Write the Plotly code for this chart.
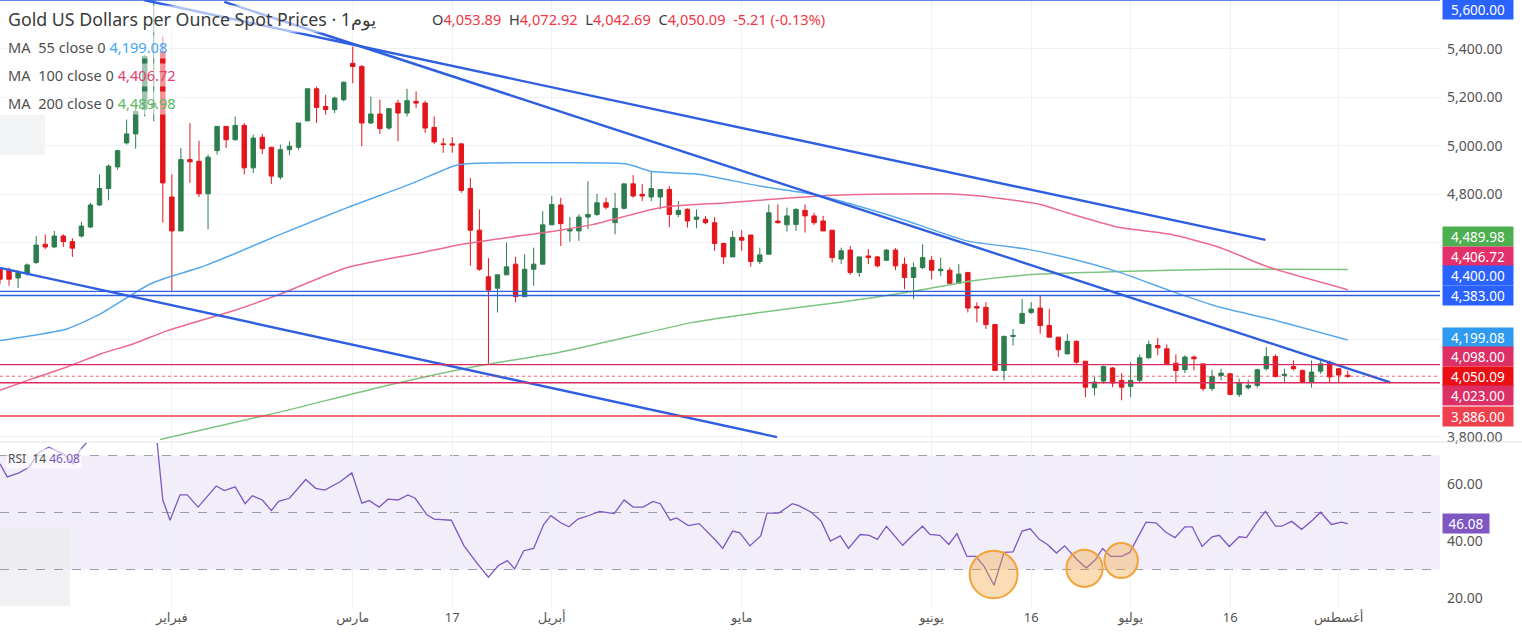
import plotly.graph_objects as go

# ---------------- data ----------------
open_ = [4491, 4487, 4455, 4474, 4519, 4594, 4583, 4628, 4605, 4628,
         4665, 4756, 4824, 4913, 5012, 5049, 5149, 5160, 5388, 4789,
         4649, 4943, 4936, 4802, 4980, 5080, 5025, 5084, 4909, 5035,
         4994, 4871, 4984, 4994, 5103, 5235, 5162, 5149, 5190, 5340,
         5327, 5094, 5131, 5073, 5176, 5135, 5183, 5176, 5076, 5008,
         5008, 5008, 4824, 4652, 4460, 4413, 4468, 4512, 4378, 4491,
         4512, 4674, 4756, 4649, 4649, 4706, 4717, 4765, 4683, 4742,
         4843, 4800, 4789, 4789, 4820, 4717, 4738, 4697, 4697, 4683,
         4597, 4542, 4622, 4632, 4523, 4553, 4690, 4674, 4676, 4734,
         4711, 4690, 4652, 4533, 4570, 4478, 4546, 4542, 4528, 4570,
         4512, 4457, 4498, 4528, 4485, 4487, 4433, 4478, 4337, 4334,
         4263, 4074, 4214, 4268, 4313, 4331, 4259, 4211, 4142, 4194,
         4112, 4003, 4030, 4084, 4033, 4008, 4033, 4126, 4177, 4163,
         4104, 4077, 4129, 4101, 3999, 4053, 4060, 3975, 4003, 4012,
         4081, 4131, 4053, 4090, 4074, 4026, 4071, 4108, 4081, 4053.89]
high = [4498, 4498, 4487, 4515, 4628, 4635, 4649, 4635, 4619, 4687,
        4765, 4882, 4923, 4984, 5108, 5169, 5375, 5621, 5450, 4882,
        4991, 5094, 5021, 4964, 5080, 5080, 5121, 5094, 5046, 5049,
        4994, 5005, 5019, 5094, 5235, 5244, 5210, 5203, 5265, 5409,
        5333, 5203, 5190, 5155, 5190, 5235, 5224, 5186, 5121, 5032,
        5035, 5008, 4868, 4738, 4537, 4468, 4601, 4542, 4553, 4580,
        4731, 4793, 4786, 4706, 4717, 4854, 4802, 4786, 4806, 4843,
        4879, 4843, 4895, 4820, 4834, 4772, 4742, 4738, 4711, 4706,
        4601, 4649, 4652, 4632, 4580, 4758, 4758, 4745, 4742, 4758,
        4724, 4711, 4652, 4580, 4587, 4542, 4574, 4546, 4574, 4578,
        4539, 4519, 4594, 4546, 4539, 4498, 4512, 4478, 4355, 4355,
        4263, 4218, 4245, 4368, 4355, 4382, 4327, 4211, 4225, 4197,
        4112, 4047, 4094, 4088, 4063, 4108, 4140, 4197, 4208, 4181,
        4140, 4136, 4136, 4101, 4077, 4081, 4063, 4040, 4036, 4081,
        4170, 4140, 4081, 4115, 4077, 4115, 4118, 4115, 4081, 4072.92]
low = [4430, 4423, 4413, 4464, 4512, 4574, 4578, 4583, 4542, 4622,
       4663, 4752, 4775, 4902, 5005, 4988, 5121, 5101, 4683, 4402,
       4649, 4847, 4789, 4656, 4964, 4991, 5021, 4882, 4888, 4966,
       4843, 4861, 4961, 4984, 5101, 5094, 5128, 5135, 5183, 5258,
       4998, 5090, 5049, 5066, 5019, 5121, 5155, 5053, 5008, 4971,
       4971, 4806, 4505, 4485, 4101, 4313, 4468, 4355, 4378, 4423,
       4512, 4674, 4587, 4605, 4608, 4656, 4710, 4738, 4635, 4738,
       4786, 4772, 4772, 4738, 4665, 4706, 4663, 4660, 4676, 4567,
       4512, 4542, 4567, 4501, 4512, 4553, 4679, 4646, 4649, 4642,
       4674, 4649, 4519, 4512, 4468, 4460, 4512, 4498, 4526, 4487,
       4409, 4368, 4491, 4450, 4464, 4430, 4430, 4313, 4272, 4245,
       4074, 4033, 4177, 4268, 4307, 4225, 4211, 4129, 4142, 4101,
       3964, 3971, 4019, 4005, 3951, 3964, 4026, 4122, 4136, 4099,
       4026, 4063, 4074, 3989, 3989, 4033, 3971, 3964, 3995, 4003,
       4074, 4044, 4026, 4074, 4022, 4003, 4060, 4026, 4026, 4042.69]
close = [4450, 4450, 4478, 4509, 4591, 4583, 4628, 4605, 4578, 4669,
         4756, 4824, 4916, 4980, 5049, 5142, 5368, 5175, 4847, 4649,
         4943, 4934, 4802, 4953, 5080, 5025, 5084, 4909, 5032, 4988,
         4875, 4984, 4998, 5094, 5235, 5158, 5149, 5197, 5262, 5327,
         5094, 5131, 5071, 5153, 5135, 5186, 5176, 5073, 5016, 5005,
         5003, 4816, 4652, 4491, 4405, 4468, 4501, 4378, 4491, 4512,
         4674, 4758, 4679, 4656, 4706, 4717, 4765, 4747, 4742, 4843,
         4793, 4793, 4824, 4820, 4717, 4734, 4690, 4706, 4683, 4597,
         4542, 4622, 4611, 4523, 4550, 4724, 4683, 4711, 4738, 4711,
         4683, 4649, 4539, 4567, 4478, 4542, 4539, 4505, 4570, 4505,
         4457, 4498, 4539, 4487, 4491, 4433, 4471, 4331, 4331, 4263,
         4074, 4214, 4218, 4309, 4327, 4259, 4211, 4159, 4194, 4108,
         4005, 4026, 4090, 4022, 4005, 4033, 4126, 4181, 4167, 4101,
         4074, 4129, 4122, 3999, 4049, 4063, 3975, 4022, 4012, 4077,
         4131, 4049, 4058, 4081, 4026, 4067, 4101, 4047, 4055.3, 4050.09]
bar_index = list(range(len(close)))

# x axis tick labels (bar index -> label)
tick_index = [19, 39, 50, 61, 82, 103, 114, 125, 136, 148]
tick_text = ["فبراير", "مارس", "17", "أبريل", "مايو", "يونيو", "16", "يوليو", "16", "أغسطس"]

# moving averages (bar position, value)
ma55_x = [0, 3.6, 7.4, 11.1, 14.7, 16.6, 18.5, 22.1, 25.8, 31.0, 38.4, 45.7, 50.1, 52.0, 61.9,
          69.3, 71.9, 77.4, 84.0, 89.9, 92.9, 100.3, 106.9, 113.5, 118.6, 123.8, 129.4, 134.9, 140.4, 149]
ma55_y = [4197, 4218, 4245, 4307, 4389, 4430, 4457, 4498, 4553, 4635, 4745, 4847, 4916, 4927, 4930,
          4925, 4895, 4882, 4834, 4800, 4772, 4690, 4608, 4574, 4533, 4478, 4402, 4334, 4286, 4199.08]
ma100_x = [0, 3.6, 7.4, 11.1, 14.7, 18.5, 22.1, 25.8, 31.0, 38.4, 45.7, 51.6, 61.9, 65.6, 73.0,
           80.4, 87.7, 92.9, 103.9, 108.3, 115.0, 118.6, 123.8, 129.4, 134.9, 140.4, 149]
ma100_y = [3992, 4040, 4088, 4142, 4183, 4238, 4279, 4320, 4389, 4498, 4553, 4597, 4652, 4676, 4745,
           4765, 4786, 4797, 4802, 4793, 4758, 4717, 4663, 4635, 4580, 4498, 4406.72]
ma200_x = [17.7, 31.0, 42.0, 53.1, 61.9, 69.3, 76.6, 84.0, 92.9, 100.3, 107.6, 115.0, 123.8, 134.9, 149]
ma200_y = [3789, 3903, 4005, 4094, 4149, 4211, 4272, 4313, 4355, 4396, 4444, 4471, 4482, 4491, 4489.98]

# RSI(14) (bar position, value)
rsi_x = [0, 0.8, 2.1, 3.2, 4.3, 5.4, 6.2, 7.0, 8.1, 8.8, 9.9, 17.2, 18.0, 18.8, 19.9, 20.7, 21.9, 23.9,
         24.8, 26.0, 27.1, 27.9, 29.0, 30.0, 30.8, 32.0, 33.8, 34.9, 35.9, 37.6, 38.9, 40.0, 40.8, 41.9,
         42.9, 44.0, 45.1, 45.9, 47.2, 48.0, 49.9, 51.3, 52.8, 54.0, 55.1, 56.1, 56.9, 57.9, 59.0, 60.1,
         60.9, 62.0, 62.9, 63.9, 64.9, 66.3, 67.9, 69.0, 70.0, 71.1, 72.2, 73.0, 74.1, 74.8, 76.1, 77.3,
         79.2, 79.9, 81.0, 81.8, 82.9, 84.1, 84.8, 86.1, 87.6, 88.3, 89.7, 90.8, 91.8, 92.9, 93.8, 95.1,
         96.1, 97.0, 98.0, 98.8, 99.8, 100.9, 102.0, 102.8, 103.9, 104.9, 105.8, 106.9, 107.9, 108.8,
         109.9, 111.0, 112.0, 113.0, 113.9, 114.9, 115.8, 116.8, 117.7, 119.0, 120.1, 121.1, 121.9,
         122.8, 124.0, 124.9, 125.9, 126.7, 127.8, 128.9, 129.9, 131.0, 131.8, 132.9, 134.0, 134.8,
         135.9, 137.0, 137.8, 138.9, 139.9, 141.0, 141.7, 142.8, 143.9, 145.1, 146.0, 147.2, 148.3, 149]
rsi_y = [67.1, 62.5, 63.9, 65.9, 71.1, 72.9, 71.7, 70.6, 67.1, 71.7, 75.8, 80.0, 54.4, 47.3, 56.2, 56.2,
         51.9, 59.3, 57.7, 59.0, 53.1, 55.9, 54.4, 50.7, 53.9, 55.0, 61.6, 58.5, 57.9, 60.8, 63.9, 53.3,
         54.2, 51.9, 54.7, 54.4, 56.2, 55.0, 49.2, 47.7, 47.3, 38.3, 32.0, 27.3, 31.4, 33.1, 30.2, 36.6,
         37.4, 45.8, 48.9, 46.4, 45.0, 47.7, 48.7, 50.4, 49.6, 54.4, 51.9, 51.9, 53.9, 53.1, 47.3, 48.1,
         45.4, 46.1, 40.0, 37.4, 43.5, 42.9, 38.3, 41.8, 49.8, 49.8, 53.1, 52.4, 50.1, 46.9, 40.0, 41.8,
         37.4, 42.3, 42.0, 40.6, 45.2, 42.3, 38.5, 42.0, 45.2, 42.3, 42.0, 38.8, 42.6, 34.6, 34.6, 31.1,
         24.5, 36.0, 36.2, 43.5, 44.3, 40.6, 38.8, 35.8, 38.3, 33.7, 30.5, 33.4, 37.4, 34.6, 34.6, 36.0,
         41.8, 46.6, 46.4, 43.1, 41.2, 45.0, 45.0, 38.1, 41.5, 42.0, 38.1, 41.5, 41.2, 46.4, 50.4, 45.2,
         45.2, 46.9, 44.1, 47.3, 50.1, 45.8, 46.6, 46.08]

# drawn trend lines: (x0, price0, x1, price1)
trend_lines = [(15.9, 5601, 139.9, 4612),
               (24.8, 5593, 153.7, 4025),
               (0, 4497, 85.9, 3799)]

# ---------------- styling ----------------
FONT = "Noto Sans, DejaVu Sans, sans-serif"
GREEN = "#2e7d4f"
RED = "#e3161b"
BLUE = "#2f5fe0"
PLOT_W, PLOT_H = 1440, 608
X_RANGE = [0, 159.2]
P_RANGE = [3783, 5601]
R_RANGE = [16.5, 74.4]
P_DOM = [1 - 441 / PLOT_H, 1]
R_DOM = [0, 165 / PLOT_H]


def px(x):
    return x / PLOT_W


def py(y):
    return 1 - y / PLOT_H


fig = go.Figure()

fig.add_trace(go.Candlestick(
    x=bar_index, open=open_, high=high, low=low, close=close,
    increasing=dict(line=dict(color=GREEN, width=1), fillcolor=GREEN),
    decreasing=dict(line=dict(color=RED, width=1), fillcolor=RED),
    whiskerwidth=0, showlegend=False, hoverinfo="skip", xaxis="x", yaxis="y"))

for xs, ys, col in [(ma200_x, ma200_y, "#7cc47f"), (ma100_x, ma100_y, "#ec6a8e"), (ma55_x, ma55_y, "#58a8ec")]:
    fig.add_trace(go.Scatter(x=xs, y=ys, mode="lines", line=dict(color=col, width=1.5, shape="spline", smoothing=0.6),
                             showlegend=False, hoverinfo="skip", xaxis="x", yaxis="y"))

for x0, p0, x1, p1 in trend_lines:
    fig.add_trace(go.Scatter(x=[x0, x1], y=[p0, p1], mode="lines", line=dict(color=BLUE, width=2.4),
                             showlegend=False, hoverinfo="skip", xaxis="x", yaxis="y"))

fig.add_trace(go.Scatter(x=rsi_x, y=rsi_y, mode="lines", line=dict(color="#7e57c2", width=1.3),
                         showlegend=False, hoverinfo="skip", xaxis="x2", yaxis="y2"))

shapes = []
# faint artifacts at the far left
shapes.append(dict(type="rect", xref="paper", yref="paper", x0=0, x1=px(45), y0=py(155), y1=py(115),
                   fillcolor="#f3f4f6", line=dict(width=0), layer="below"))
# RSI band and levels
shapes.append(dict(type="rect", xref="paper", yref="y2", x0=0, x1=1, y0=30, y1=70,
                   fillcolor="rgba(126,87,194,0.10)", line=dict(width=0), layer="below"))
shapes.append(dict(type="rect", xref="paper", yref="paper", x0=0, x1=px(70), y0=py(606), y1=py(528),
                   fillcolor="rgba(235,235,238,0.7)", line=dict(width=0), layer="below"))
for lv in (70, 50, 30):
    shapes.append(dict(type="line", xref="paper", yref="y2", x0=0, x1=1, y0=lv, y1=lv,
                       line=dict(color="#9a9ca6", width=1, dash="dash"), layer="below"))
# horizontal price levels
for lv, col, w, dash in [(5600, BLUE, 1.2, "solid"), (4400, BLUE, 1.4, "solid"), (4383, BLUE, 1.4, "solid"),
                         (4098, "#dc2a62", 1.4, "solid"), (4023, "#dc2a62", 1.4, "solid"),
                         (3886, "#ef3a48", 1.4, "solid"), (4050.09, "#ef3a48", 0.8, "dot")]:
    shapes.append(dict(type="line", xref="paper", yref="y", x0=0, x1=1, y0=lv, y1=lv,
                       line=dict(color=col, width=w, dash=dash)))
# pane separator
shapes.append(dict(type="line", xref="paper", yref="paper", x0=0, x1=1.057, y0=py(442), y1=py(442),
                   line=dict(color="#e0e3eb", width=1)))
# orange highlight circles on RSI
for x0, x1, y0, y1 in [(107.2, 112.5, 19.9, 36.6), (117.9, 121.9, 23.9, 36.9), (122.1, 125.8, 27.0, 39.3)]:
    shapes.append(dict(type="circle", xref="x2", yref="y2", x0=x0, x1=x1, y0=y0, y1=y1,
                       fillcolor="rgba(244,165,60,0.38)", line=dict(color="#f2a33a", width=2)))

ann = []
# legend texts
ann.append(dict(xref="paper", yref="paper", x=px(6), y=py(19), xanchor="left", yanchor="middle",
                text="Gold US Dollars per Ounce Spot Prices \u00b7 1يوم", showarrow=False,
                font=dict(family=FONT, size=17.8, color="#3b3b3b"), bgcolor="rgba(255,255,255,0.6)"))
R = "#f23645"
ohlc = (f"O<span style='color:{R}'>4,053.89</span>\u00a0\u00a0H<span style='color:{R}'>4,072.92</span>"
        f"\u00a0\u00a0L<span style='color:{R}'>4,042.69</span>\u00a0\u00a0C<span style='color:{R}'>4,050.09</span>"
        f"\u00a0\u00a0<span style='color:{R}'>-5.21 (-0.13%)</span>")
ann.append(dict(xref="paper", yref="paper", x=px(430), y=py(19), xanchor="left", yanchor="middle",
                text=ohlc, showarrow=False, font=dict(family=FONT, size=14.6, color="#3b3b3b")))
for i, (lab, val, col) in enumerate([("MA\u00a0\u00a055 close 0", "4,199.08", "#42a5f5"),
                                     ("MA\u00a0\u00a0100 close 0", "4,406.72", "#e0406e"),
                                     ("MA\u00a0\u00a0200 close 0", "4,489.98", "#5cb860")]):
    ann.append(dict(xref="paper", yref="paper", x=px(6), y=py(47 + 28 * i), xanchor="left", yanchor="middle",
                    text=f"{lab}\u00a0<span style='color:{col}'>{val}</span>", showarrow=False,
                    font=dict(family=FONT, size=14.6, color="#505050"), bgcolor="rgba(255,255,255,0.55)"))
ann.append(dict(xref="paper", yref="paper", x=px(6), y=py(458), xanchor="left", yanchor="middle",
                text="RSI\u00a0\u00a014\u00a0<span style='color:#7e57c2'>46.08</span>", showarrow=False,
                font=dict(family=FONT, size=12, color="#505050"), bgcolor="rgba(255,255,255,0.6)"))

# price-scale tags, stacked around the last price like the platform does
scale = 441 / (P_RANGE[1] - P_RANGE[0])
sep = 19.5 / scale
tags = [(5600, "5,600.00", "#2962ff"), (4489.98, "4,489.98", "#4caf50"), (4406.72, "4,406.72", "#e3306a"),
        (4400, "4,400.00", "#2962ff"), (4383, "4,383.00", "#2962ff"), (4199.08, "4,199.08", "#2e9bf0"),
        (4098, "4,098.00", "#dc2f66"), (4050.09, "4,050.09", "#ea0f12"), (4023, "4,023.00", "#dc2f66"),
        (3886, "3,886.00", "#f0404e")]
anchor = 4050.09
disp = {}
prev = anchor
for v, t, c in sorted([t for t in tags if t[0] > anchor]):
    prev = max(v, prev + sep)
    disp[v] = prev
prev = anchor
for v, t, c in sorted([t for t in tags if t[0] < anchor], reverse=True):
    prev = min(v, prev - sep)
    disp[v] = prev
disp[anchor] = anchor
for v, t, c in tags:
    yv = min(disp[v], P_RANGE[1] - sep / 2)
    ann.append(dict(xref="paper", yref="y", x=1, y=yv, xanchor="left", yanchor="middle", xshift=2,
                    text=t, showarrow=False, bgcolor=c, width=66, height=15, borderpad=2,
                    font=dict(family=FONT, size=13.5, color="white")))
ann.append(dict(xref="paper", yref="y2", x=1, y=46.08, xanchor="left", yanchor="middle", xshift=2,
                text="46.08", showarrow=False, bgcolor="#7e57c2", width=42, height=15, borderpad=2,
                font=dict(family=FONT, size=13.5, color="white")))

price_ticks = [3800, 4000, 4200, 4400, 4600, 4800, 5000, 5200, 5400]
price_text = ["3,800.00", "", "", "", "", "4,800.00", "5,000.00", "5,200.00", "5,400.00"]

fig.update_layout(
    width=1522, height=632, margin=dict(l=0, r=82, t=0, b=24),
    paper_bgcolor="white", plot_bgcolor="white", showlegend=False,
    font=dict(family=FONT, size=13, color="#555555"),
    xaxis=dict(domain=[0, 1], range=X_RANGE, anchor="y", rangeslider=dict(visible=False),
               showticklabels=False, tickvals=tick_index, showgrid=True, gridcolor="#f0f1f5",
               zeroline=False, showline=False, ticks=""),
    xaxis2=dict(domain=[0, 1], range=X_RANGE, anchor="y2", matches="x", tickvals=tick_index,
                ticktext=tick_text, showgrid=True, gridcolor="#f0f1f5", zeroline=False, showline=False,
                ticks="", tickfont=dict(family=FONT, size=13, color="#555555")),
    yaxis=dict(domain=P_DOM, range=P_RANGE, side="right", anchor="x", tickvals=price_ticks,
               ticktext=price_text, showgrid=True, gridcolor="#f0f1f5", zeroline=False, showline=False,
               ticks="", ticklabelstandoff=6, tickfont=dict(family=FONT, size=14, color="#555555")),
    yaxis2=dict(domain=R_DOM, range=R_RANGE, side="right", anchor="x2", tickvals=[20, 40, 60],
                ticktext=["20.00", "40.00", "60.00"], showgrid=False, zeroline=False, showline=False,
                ticks="", ticklabelstandoff=6, tickfont=dict(family=FONT, size=14, color="#555555")),
    shapes=shapes, annotations=ann,
)

fig.write_html("out.html", config={"displayModeBar": False},
               post_script="document.body.style.margin='0';document.body.style.overflow='hidden';")
